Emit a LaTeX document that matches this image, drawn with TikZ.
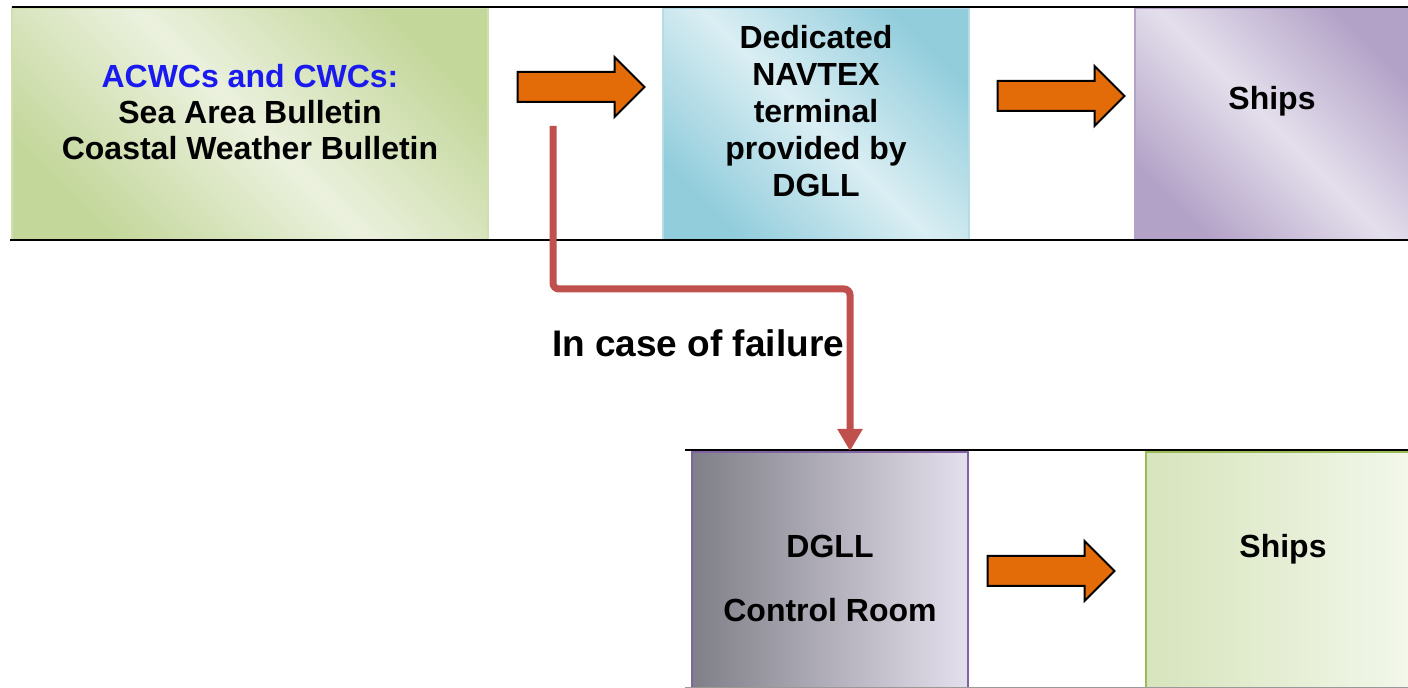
\documentclass[tikz,border=0pt]{standalone}
\usepackage{fontspec}
\setmainfont{Liberation Sans}
\usetikzlibrary{shapes.arrows,arrows.meta}

\definecolor{ogreen}{HTML}{C4D79B}
\definecolor{lgreen}{HTML}{EBF1DE}
\definecolor{oteal}{HTML}{92CDDC}
\definecolor{lteal}{HTML}{DAEEF3}
\definecolor{opurple}{HTML}{B3A2C7}
\definecolor{lpurple}{HTML}{E4DFEC}
\definecolor{dpurple}{HTML}{8064A2}
\definecolor{ogray}{HTML}{7F7F87}
\definecolor{sgreen}{HTML}{D7E4BC}
\definecolor{pgreen}{HTML}{F2F7EA}
\definecolor{bgreen}{HTML}{9BBB59}
\definecolor{arrorange}{HTML}{E36C09}
\definecolor{failred}{HTML}{C0504D}
\definecolor{acblue}{HTML}{1A1AF0}

\begin{document}
\begin{tikzpicture}[x=0.5pt,y=-0.5pt,
    txt/.style={font=\bfseries\fontsize{16}{18}\selectfont, align=center, inner sep=0pt},
    panel/.style={rectangle, inner sep=0pt, line width=1pt, minimum height=116pt},
    bigarrow/.style={single arrow, draw=black, fill=arrorange, line width=1pt, inner xsep=0pt, inner ysep=7pt,
      minimum width=29pt, minimum height=63.5pt, single arrow head extend=7.5pt},
    failline/.style={draw=failred, line width=3.5pt, rounded corners=3pt,
      -{Triangle[width=12pt,length=11pt]}}]
  \useasboundingbox (0,0) rectangle (1408,688);
  \fill [white] (0,0) rectangle (1408,688);

  % upper row
  \node [panel, draw=ogreen!80, minimum width=238pt, top color=ogreen, bottom color=ogreen, middle color=lgreen, shading angle=-45] (src) at (250,124) {};
  \node [panel, draw=oteal!70, minimum width=153pt, top color=oteal, bottom color=oteal, middle color=lteal, shading angle=-45] (navtex) at (816,124) {};
  \node [panel, draw=opurple, minimum width=137.5pt, top color=opurple, bottom color=opurple, middle color=lpurple, shading angle=-45] (shipsa) at (1272.5,124) {};
  \draw [line width=1pt] (12,7) -- (1408,7);
  \draw [line width=1pt] (10,240) -- (1408,240);

  \node [txt] (srctxt) at (250,112) {\textcolor{acblue}{ACWCs and CWCs:}\\Sea Area Bulletin\\Coastal Weather Bulletin};
  \node [txt, font=\bfseries\fontsize{16}{18.5}\selectfont] (navtxt) at (816,111) {Dedicated\\NAVTEX\\terminal\\provided by\\DGLL};
  \node [txt] (shipsatxt) at (1272,101) {Ships};

  \node [bigarrow] (arra) at (573.5,87) {};
  \node [bigarrow] (arrb) at (1053.5,96) {};

  % fallback route
  \coordinate (failstart) at (553,126);
  \coordinate (failturn) at (850,289);
  \node [txt, font=\bfseries\fontsize{18.5}{20}\selectfont] (fail) at (698,343) {In case of failure};

  % lower row
  \node [panel, draw=dpurple, minimum width=138pt, minimum height=118pt, left color=ogray, right color=lpurple] (dgll) at (830,570) {};
  \node [panel, draw=bgreen, minimum width=132pt, minimum height=118pt, left color=sgreen, right color=pgreen] (shipsb) at (1278,570) {};
  \draw [line width=1pt] (685,450) -- (1408,450);
  \draw [line width=1pt, black!40] (685,688) -- (1408,688);

  \node [txt] (dglltxt) at (830,578) {DGLL\\[14pt]Control Room};
  \node [txt] (shipsbtxt) at (1283,549) {Ships};

  \node [bigarrow] (arrc) at (1043.5,571) {};

  \draw [failline] (failstart) |- (failturn) -- (failturn |- dgll.north);
\end{tikzpicture}
\end{document}
